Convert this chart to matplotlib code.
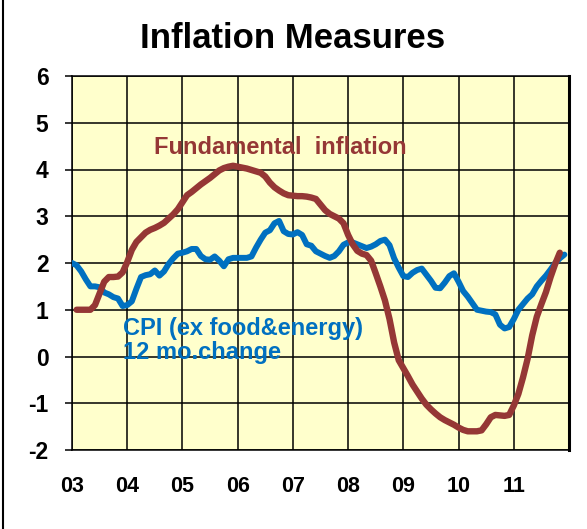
import matplotlib
matplotlib.use("Agg")
import matplotlib.pyplot as plt
from matplotlib.lines import Line2D
import numpy as np

plt.rcParams['font.family'] = ['Liberation Sans', 'DejaVu Sans']

# Month index 0 = Jan 2003
year_labels = ["03", "04", "05", "06", "07", "08", "09", "10", "11", ""]

fund_start = 1
fundamental = [1.0, 1.0, 1.0, 1.0, 1.1, 1.35, 1.6, 1.7, 1.7, 1.71, 1.8,
               2.02, 2.28, 2.45, 2.55, 2.65, 2.71, 2.75, 2.8, 2.86, 2.95, 3.04, 3.15,
               3.3, 3.45, 3.52, 3.6, 3.68, 3.75, 3.82, 3.9, 3.98, 4.03, 4.06, 4.08,
               4.06, 4.04, 4.02, 3.99, 3.96, 3.93, 3.85, 3.72, 3.62, 3.55, 3.49, 3.45,
               3.44, 3.43, 3.43, 3.42, 3.4, 3.37, 3.25, 3.13, 3.05, 3.0, 2.95, 2.85,
               2.6, 2.4, 2.26, 2.2, 2.17, 2.05, 1.78, 1.5, 1.2, 0.8, 0.3, -0.08,
               -0.25, -0.42, -0.6, -0.75, -0.9, -1.03, -1.13, -1.22, -1.3, -1.36, -1.41, -1.46,
               -1.52, -1.57, -1.6, -1.6, -1.6, -1.58, -1.45, -1.3, -1.25, -1.26, -1.27, -1.25,
               -1.05, -0.8, -0.45, -0.05, 0.45, 0.85, 1.12, 1.38, 1.7, 1.98, 2.22]

cpi_start = 0
cpi_core = [2.0, 1.95, 1.82, 1.65, 1.5, 1.5, 1.48, 1.37, 1.33, 1.27, 1.24, 1.08,
            1.1, 1.18, 1.45, 1.7, 1.74, 1.76, 1.84, 1.73, 1.82, 1.98, 2.1, 2.2,
            2.22, 2.25, 2.3, 2.3, 2.15, 2.08, 2.07, 2.14, 2.05, 1.93, 2.08, 2.11,
            2.11, 2.11, 2.11, 2.14, 2.33, 2.5, 2.65, 2.7, 2.85, 2.9, 2.68, 2.62,
            2.61, 2.66, 2.6, 2.4, 2.37, 2.25, 2.2, 2.15, 2.11, 2.15, 2.25, 2.39,
            2.44, 2.44, 2.4, 2.36, 2.32, 2.35, 2.4, 2.47, 2.5, 2.38, 2.1, 1.9,
            1.72, 1.7, 1.79, 1.85, 1.88, 1.75, 1.62, 1.47, 1.46, 1.58, 1.72, 1.78,
            1.6, 1.4, 1.28, 1.14, 1.0, 0.98, 0.96, 0.95, 0.9, 0.68, 0.6, 0.63,
            0.8, 1.0, 1.12, 1.24, 1.33, 1.5, 1.62, 1.73, 1.86, 2.0, 2.1, 2.18]

yticks = [-2, -1, 0, 1, 2, 3, 4, 5, 6]

BROWN = "#953735"
BLUE = "#0070C0"

W, H = 587, 529
fig = plt.figure(figsize=(W / 100, H / 100), dpi=100)
fig.patch.set_facecolor("white")
ax = fig.add_axes([72 / W, 1 - 450 / H, (569 - 72) / W, (450 - 76) / H])
ax.set_facecolor("#FFFFCC")

x_fund = np.arange(fund_start, fund_start + len(fundamental))
x_cpi = np.arange(cpi_start, cpi_start + len(cpi_core))

ax.plot(x_cpi, cpi_core, color=BLUE, lw=4.3, solid_joinstyle="round", solid_capstyle="round", zorder=3)
ax.plot(x_fund, fundamental, color=BROWN, lw=4.6, solid_joinstyle="round", solid_capstyle="round", zorder=4)

ax.set_xlim(0, 108)
ax.set_ylim(-2, 6)
ax.set_xticks(np.arange(0, 12 * len(year_labels), 12))
ax.set_xticklabels(year_labels)
ax.set_yticks(yticks)
ax.set_yticklabels([str(v) for v in yticks])

ax.grid(True, color="black", lw=1.1)
ax.set_axisbelow(True)
ax.tick_params(axis="x", length=0, pad=19, labelsize=15.5)
ax.tick_params(axis="y", length=5, width=1.1, direction="out", pad=12, labelsize=16.5)
for lab in ax.get_xticklabels() + ax.get_yticklabels():
    lab.set_fontweight("bold")

for side in ["left", "top", "bottom"]:
    ax.spines[side].set_linewidth(1.1)
ax.spines["right"].set_linewidth(2.2)


def figpos(x, y):
    return x / W, 1 - y / H


fig.text(*figpos(293, 39), "Inflation Measures", ha="center", va="center",
         fontsize=25, fontweight="bold")

fig.text(*figpos(154, 148), "Fundamental  inflation", color=BROWN,
         fontsize=17, fontweight="bold", va="center", ha="left")
fig.text(*figpos(123, 328), "CPI (ex food&energy)", color=BLUE,
         fontsize=17, fontweight="bold", va="center", ha="left")
fig.text(*figpos(123, 353), "12 mo.change", color=BLUE,
         fontsize=17, fontweight="bold", va="center", ha="left")

fig.add_artist(Line2D([3 / W, 3 / W], [0, 1], color="black", lw=1.5, transform=fig.transFigure))

fig.savefig("out.png", dpi=100, facecolor="white")
